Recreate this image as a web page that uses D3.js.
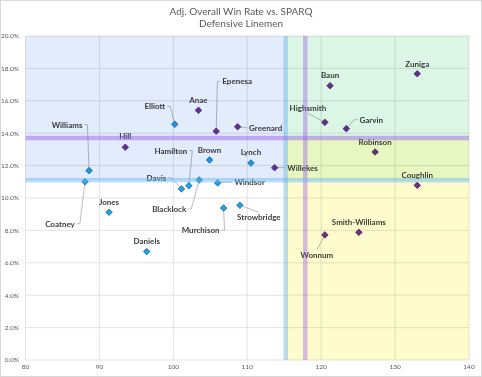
<!DOCTYPE html>
<html>
<head>
<meta charset="utf-8">
<script src="https://cdn.jsdelivr.net/npm/d3@7"></script>
<style>
  body { margin: 0; background: #fff; }
  text { font-family: Lato, "Open Sans", sans-serif; }
  .grid line { stroke: #d9d9d9; stroke-width: 0.75; }
  .tick_label { font-size: 6.5px; fill: #595959; }
  .title { font-size: 10px; fill: #595959; }
  .label { font-size: 8px; font-weight: bold; fill: #404040; }
  .leader { fill: none; stroke: #a6a6a6; stroke-width: 0.75; }
</style>
</head>
<body>
<svg id="chart" width="482" height="377"></svg>
<script>
// players
let names = ["Williams", "Coatney", "Hill", "Jones", "Daniels", "Elliott", "Anae", "Epenesa",
  "Greenard", "Hamilton", "Brown", "Lynch", "Willekes", "Davis", "Windsor", "Blacklock",
  "Murchison", "Strowbridge", "Highsmith", "Garvin", "Baun", "Zuniga", "Robinson",
  "Coughlin", "Wonnum", "Smith-Williams"]
let sparq = [88.6, 88.05, 93.5, 91.3, 96.4, 100.2, 103.4, 105.8,
  108.7, 102.1, 104.9, 110.5, 113.7, 101.1, 106.0, 103.5,
  106.8, 109.0, 120.5, 123.4, 121.2, 133.0, 127.3,
  133.0, 120.5, 125.1]
let win_rate = [11.69, 11.0, 13.13, 9.12, 6.69, 14.55, 15.41, 14.12,
  14.4, 10.76, 12.35, 12.16, 11.87, 10.56, 10.93, 11.11,
  9.38, 9.55, 14.67, 14.28, 16.93, 17.67, 12.84,
  10.78, 7.72, 7.88]
let group = ["a", "a", "b", "a", "a", "a", "b", "b",
  "b", "a", "a", "a", "b", "a", "a", "a",
  "a", "a", "b", "b", "b", "b", "b",
  "b", "b", "b"]

// reference lines (averages)
let sparq_lines = [115.2, 117.85]
let win_lines = [11.1, 13.7]

let x_ticks = [80, 90, 100, 110, 120, 130, 140]
let y_ticks = [0, 2, 4, 6, 8, 10, 12, 14, 16, 18, 20]

// label placement relative to each point (px), and whether a leader line is drawn
let label_offsets = [[-22, -46, 1], [-25, 42, 1], [0, -11, 0], [0, -10, 0], [0, -11, 0], [-20, -18, 1],
  [0, -10, 0], [21, -50, 1], [28, 1, 1], [-18, -35, 1], [0, -10, 0], [0, -11, 0], [28, 0, 1],
  [-25, -11, 1], [32, -1, 1], [-30, 29, 1], [-23, 22, 1], [19, 12, 1], [-17, -14, 1],
  [25, -9, 1], [0, -11, 0], [0, -10, 0], [0, -10, 0], [0, -10, 0], [-8, 20, 1], [0, -10, 0]]

let width = 482,
  height = 377,
  margins = {left: 25.5, right: 13, top: 36, bottom: 17};

let data = names.map((n, i) => ({
  name: n, x: sparq[i], y: win_rate[i], group: group[i], off: label_offsets[i]
}))

function make_scales() {
  return {
    x: d3.scaleLinear().domain([80, 140]).range([margins.left, width - margins.right]),
    y: d3.scaleLinear().domain([0, 20]).range([height - margins.bottom, margins.top])
  }
}

function draw(data, scales) {
  let svg = d3.select("#chart")
  let x = scales.x, y = scales.y

  svg.append("rect")
    .attr("x", 0.5).attr("y", 0.5).attr("width", width - 1).attr("height", height - 1)
    .attr("fill", "#fff").attr("stroke", "#d9d9d9")

  svg.append("text").attr("class", "title").attr("text-anchor", "middle")
    .attr("x", width / 2).attr("y", 15).text("Adj. Overall Win Rate vs. SPARQ")
  svg.append("text").attr("class", "title").attr("text-anchor", "middle")
    .attr("x", width / 2).attr("y", 27).text("Defensive Linemen")

  let grid = svg.append("g").attr("class", "grid")
  grid.selectAll(".h").data(y_ticks).enter().append("line")
    .attr("x1", x(80)).attr("x2", x(140)).attr("y1", d => y(d)).attr("y2", d => y(d))
  grid.selectAll(".v").data(x_ticks).enter().append("line")
    .attr("y1", y(0)).attr("y2", y(20)).attr("x1", d => x(d)).attr("x2", d => x(d))

  svg.selectAll(".ytl").data(y_ticks).enter().append("text")
    .attr("class", "tick_label").attr("text-anchor", "end")
    .attr("x", 19).attr("y", d => y(d) + 2.3).text(d => d.toFixed(1) + "%")
  svg.selectAll(".xtl").data(x_ticks).enter().append("text")
    .attr("class", "tick_label").attr("text-anchor", "middle")
    .attr("x", d => x(d)).attr("y", height - 8).text(d => d)

  // labels + leaders
  let lab = svg.append("g")
  data.forEach(d => {
    let px = x(d.x), py = y(d.y)
    let lx = px + d.off[0], ly = py + d.off[1]
    let t = lab.append("text").attr("class", "label").attr("text-anchor", "middle")
      .attr("x", lx).attr("y", ly + 3).text(d.name)
    if (d.off[2]) {
      let hw = t.node().getComputedTextLength() / 2
      let pts
      if (Math.abs(d.off[0]) > hw) {
        let sx = d.off[0] < 0 ? lx + hw + 2 : lx - hw - 2
        let dir = d.off[0] < 0 ? 1 : -1
        pts = [[sx, ly], [sx + 3 * dir, ly], [px, py]]
      } else {
        let sy = d.off[1] < 0 ? ly + 5 : ly - 5
        pts = [[lx, sy], [px, py]]
      }
      lab.append("path").attr("class", "leader").attr("d", d3.line()(pts))
    }
  })

  // diamonds: squares turned 45 degrees
  let sym = d3.symbol().type(d3.symbolSquare).size(22)
  svg.append("g").selectAll("path").data(data).enter().append("path")
    .attr("d", sym)
    .attr("transform", d => `translate(${x(d.x)},${y(d.y)})rotate(45)`)
    .attr("fill", d => d.group == "a" ? "#1aa3e8" : "#7030a0")
    .attr("stroke", d => d.group == "a" ? "#1f4e79" : "#3a1a5a")
    .attr("stroke-width", 0.6)

  // quadrant tints laid over the plot
  let quads = [
    [80, sparq_lines[0], win_lines[0], 20, "#e2ecfc"],
    [sparq_lines[0], 140, win_lines[1], 20, "#dcf6e6"],
    [sparq_lines[0], 140, win_lines[0], win_lines[1], "#e6f7c2"],
    [sparq_lines[0], 140, 0, win_lines[0], "#fefccc"]
  ]
  svg.append("g").style("mix-blend-mode", "multiply").selectAll("rect").data(quads).enter().append("rect")
    .style("mix-blend-mode", "multiply")
    .attr("x", d => x(d[0])).attr("width", d => x(d[1]) - x(d[0]))
    .attr("y", d => y(d[3])).attr("height", d => y(d[2]) - y(d[3]))
    .attr("fill", d => d[4])

  // average bands
  let band_w = 4.5
  svg.append("rect").attr("x", x(sparq_lines[0]) - band_w / 2).attr("width", band_w)
    .attr("y", y(20)).attr("height", y(0) - y(20)).attr("fill", "rgba(100,180,245,0.45)")
  svg.append("rect").attr("x", x(sparq_lines[1]) - band_w / 2).attr("width", band_w)
    .attr("y", y(20)).attr("height", y(0) - y(20)).attr("fill", "rgba(150,90,230,0.4)")
  svg.append("rect").attr("y", y(win_lines[0]) - band_w / 2).attr("height", band_w)
    .attr("x", x(80)).attr("width", x(140) - x(80)).attr("fill", "rgba(100,180,245,0.45)")
  svg.append("rect").attr("y", y(win_lines[1]) - band_w / 2).attr("height", band_w)
    .attr("x", x(80)).attr("width", x(140) - x(80)).attr("fill", "rgba(150,90,230,0.45)")
}

draw(data, make_scales())
</script>
</body>
</html>
